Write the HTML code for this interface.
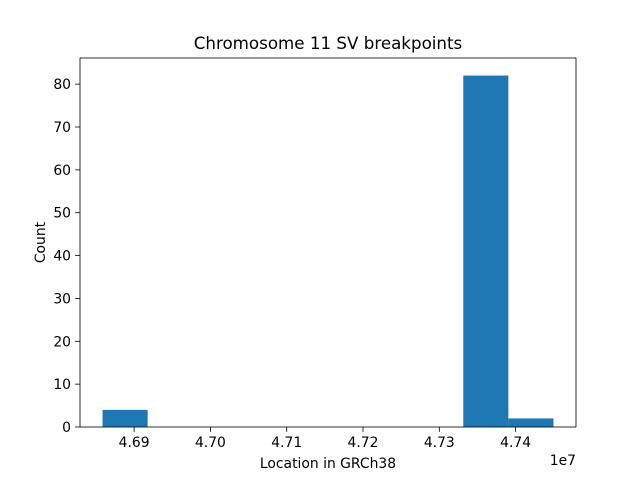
<!DOCTYPE html>
<html><head><meta charset="utf-8"><style>body{margin:0;background:#fff}svg{display:block;font-family:"DejaVu Sans","Liberation Sans",sans-serif}</style></head>
<body>
<svg id="c" width="640" height="480"></svg>
<script>
const binStart = 46858600;
const binWidth = 59100;
const counts = [4,0,0,0,0,0,0,0,82,2];
const xTicks = [46900000,47000000,47100000,47200000,47300000,47400000];
const xTickLabels = ["4.69","4.70","4.71","4.72","4.73","4.74"];
const yTicks = [0,10,20,30,40,50,60,70,80];

const L=80,R=576,T=58,B=427;
const xmin0=binStart, xmax0=binStart+binWidth*counts.length;
const pad=(xmax0-xmin0)*0.05;
const xmin=xmin0-pad,xmax=xmax0+pad;
const ymax=Math.max(...counts)*1.05;
const sx=v=>L+(v-xmin)/(xmax-xmin)*(R-L);
const sy=v=>B-v/ymax*(B-T);
const svg=document.getElementById('c');
const NS='http://www.w3.org/2000/svg';
function mk(tag,attrs,text){const e=document.createElementNS(NS,tag);for(const k in attrs)e.setAttribute(k,attrs[k]);if(text!==undefined)e.textContent=text;svg.appendChild(e);return e;}
counts.forEach((c,i)=>{
  if(c<=0)return;
  const x0=sx(binStart+i*binWidth),x1=sx(binStart+(i+1)*binWidth);
  const r=mk('rect',{x:x0,y:sy(c),width:x1-x0,height:B-sy(c),fill:'#1f77b4'});
  
  
});
const frame=mk('rect',{x:L,y:T,width:R-L,height:B-T,fill:'none',stroke:'#000','stroke-width':0.8});


xTicks.forEach((v,i)=>{
  const x=sx(v);
  mk('line',{x1:x,x2:x,y1:B,y2:B+4.9,stroke:'#000','stroke-width':0.8});
  const t=mk('text',{x:x,y:B+20,'text-anchor':'middle','font-size':13.9},xTickLabels[i]);
  
  
});
yTicks.forEach(v=>{
  const y=sy(v);
  mk('line',{x1:L-4.9,x2:L,y1:y,y2:y,stroke:'#000','stroke-width':0.8});
  const t=mk('text',{x:L-9,y:y+5,'text-anchor':'end','font-size':13.9},String(v));
  
  
});
let t;
t=mk('text',{x:R,y:B+38,'text-anchor':'end','font-size':13.9},'1e7');


t=mk('text',{x:(L+R)/2,y:B+41,'text-anchor':'middle','font-size':13.9},'Location in GRCh38');


t=mk('text',{x:45,y:(T+B)/2,'text-anchor':'middle','font-size':13.9,transform:'rotate(-90 45 '+((T+B)/2)+')'},'Count');


t=mk('text',{x:(L+R)/2,y:T-9,'text-anchor':'middle','font-size':16.7},'Chromosome 11 SV breakpoints');


</script>
</body></html>
